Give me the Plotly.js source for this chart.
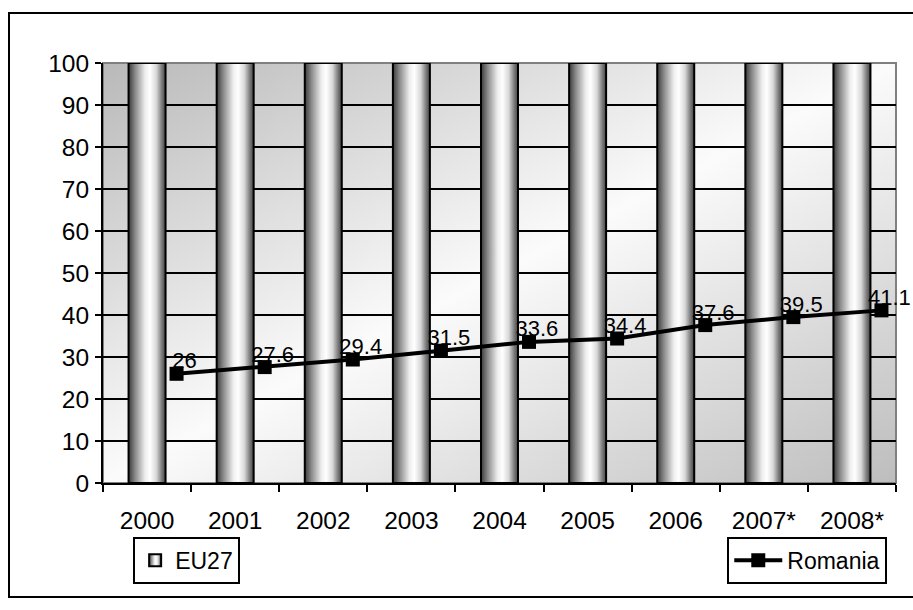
<!DOCTYPE html>
<html>
<head>
<meta charset="utf-8">
<script src="https://cdn.plot.ly/plotly-3.0.1.min.js"></script>
<style>
  html, body { margin: 0; padding: 0; background: #fff; }
  #wrap { position: relative; width: 913px; height: 610px; }
  #chart { width: 913px; height: 610px; }
  #frame { position: absolute; left: 8px; top: 12px; width: 920px; height: 586px;
           border: 2px solid #000; pointer-events: none; box-sizing: border-box; }
</style>
</head>
<body>
<div id="wrap">
  <div id="chart"></div>
  <div id="frame"></div>
</div>
<script>
// ---- data ----
const years = ["2000", "2001", "2002", "2003", "2004", "2005", "2006", "2007*", "2008*"];
const eu27 = [100, 100, 100, 100, 100, 100, 100, 100, 100];
const romania = [26, 27.6, 29.4, 31.5, 33.6, 34.4, 37.6, 39.5, 41.1];
const yTicks = [0, 10, 20, 30, 40, 50, 60, 70, 80, 90, 100];

// ---- derived positions ----
const idx = years.map((_, i) => i);
const lineShift = 0.335;          // line points sit right of the bar centres
const labelShift = 0.09;          // labels slightly right of markers
const lineX = idx.map(i => i + lineShift);
const labelX = idx.map(i => i + lineShift + labelShift);
const bounds = [];
for (let i = 0; i <= years.length; i++) bounds.push(i - 0.5);

const FONT = "Liberation Sans, Arial, sans-serif";

const traces = [
  {
    type: "bar", name: "EU27", x: idx, y: eu27, width: 0.42,
    marker: { color: "#cccccc", line: { color: "#000", width: 2 } },
    legend: "legend", hoverinfo: "skip"
  },
  {
    type: "scatter", mode: "lines+markers", name: "Romania", x: lineX, y: romania,
    line: { color: "#000", width: 4 },
    marker: { symbol: "square", size: 14, color: "#000" },
    legend: "legend2", hoverinfo: "skip", cliponaxis: false
  },
  {
    type: "scatter", mode: "text", name: "labels", x: labelX, y: romania,
    text: romania.map(String), textposition: "top center",
    textfont: { family: FONT, size: 22, color: "#000" },
    showlegend: false, hoverinfo: "skip", cliponaxis: false
  }
];

const layout = {
  width: 913, height: 610,
  margin: { l: 103, r: 17, t: 63, b: 127 },
  paper_bgcolor: "rgba(0,0,0,0)",
  plot_bgcolor: "#e0e0e0",
  barmode: "overlay",
  font: { family: FONT, size: 24, color: "#000" },
  xaxis: {
    range: [-0.5, years.length - 0.5],
    tickmode: "array", tickvals: idx, ticktext: years,
    ticks: "", showgrid: false, zeroline: false,
    showline: true, linecolor: "#000", linewidth: 2,
    tickfont: { family: FONT, size: 24.5, color: "#000" },
    ticklabelstandoff: 15,
    minor: { tickmode: "array", tickvals: bounds, ticks: "outside", ticklen: 7,
             tickwidth: 2, tickcolor: "#000", showgrid: false },
    fixedrange: true
  },
  yaxis: {
    range: [0, 100], tickmode: "array", tickvals: yTicks,
    ticks: "outside", ticklen: 6, tickwidth: 2, tickcolor: "#000",
    showgrid: true, gridcolor: "#000", gridwidth: 2, zeroline: false,
    showline: true, linecolor: "#000", linewidth: 2,
    tickfont: { family: FONT, size: 24.5, color: "#000" },
    ticklabelstandoff: 1,
    fixedrange: true
  },
  shapes: [
    { type: "rect", xref: "paper", yref: "paper", x0: 0, x1: 1, y0: 0, y1: 1,
      line: { color: "#808080", width: 2 }, layer: "between" }
  ],
  legend: {
    x: 0.038, y: -0.128, xanchor: "left", yanchor: "top",
    bordercolor: "#000", borderwidth: 2, bgcolor: "#fff",
    font: { family: FONT, size: 23, color: "#000" },
    itemwidth: 30, tracegroupgap: 0
  },
  legend2: {
    x: 0.989, y: -0.128, xanchor: "right", yanchor: "top",
    bordercolor: "#000", borderwidth: 2, bgcolor: "#fff",
    font: { family: FONT, size: 23, color: "#000" },
    itemwidth: 48
  },
  showlegend: true
};

Plotly.newPlot("chart", traces, layout, { staticPlot: true, displayModeBar: false }).then(gd => {
  const NS = "http://www.w3.org/2000/svg";
  const svg = gd.querySelector("svg.main-svg");
  let defs = svg.querySelector("defs");
  if (!defs) { defs = document.createElementNS(NS, "defs"); svg.insertBefore(defs, svg.firstChild); }
  function grad(id, x2, y2, stops) {
    const g = document.createElementNS(NS, "linearGradient");
    g.setAttribute("id", id);
    g.setAttribute("x1", "0"); g.setAttribute("y1", "0");
    g.setAttribute("x2", x2); g.setAttribute("y2", y2);
    stops.forEach(([o, c]) => {
      const s = document.createElementNS(NS, "stop");
      s.setAttribute("offset", o); s.setAttribute("stop-color", c);
      g.appendChild(s);
    });
    defs.appendChild(g);
  }
  grad("cylGrad", "1", "0", [[0, "#3a3a3a"], [0.18, "#8a8a8a"], [0.45, "#eeeeee"], [0.58, "#ffffff"], [0.75, "#d8d8d8"], [0.9, "#7a7a7a"], [1, "#444444"]]);
  grad("bgGrad", "1", "1", [[0, "#b9b9b9"], [0.5, "#fbfbfb"], [1, "#bdbdbd"]]);
  gd.querySelectorAll(".barlayer .point path").forEach(p => { p.style.fill = "url(#cylGrad)"; });
  gd.querySelectorAll("g.legend .legendpoints path").forEach(p => { p.style.fill = "url(#cylGrad)"; });
  const bg = gd.querySelector("rect.bg");
  if (bg) bg.style.fill = "url(#bgGrad)";
});
</script>
</body>
</html>
